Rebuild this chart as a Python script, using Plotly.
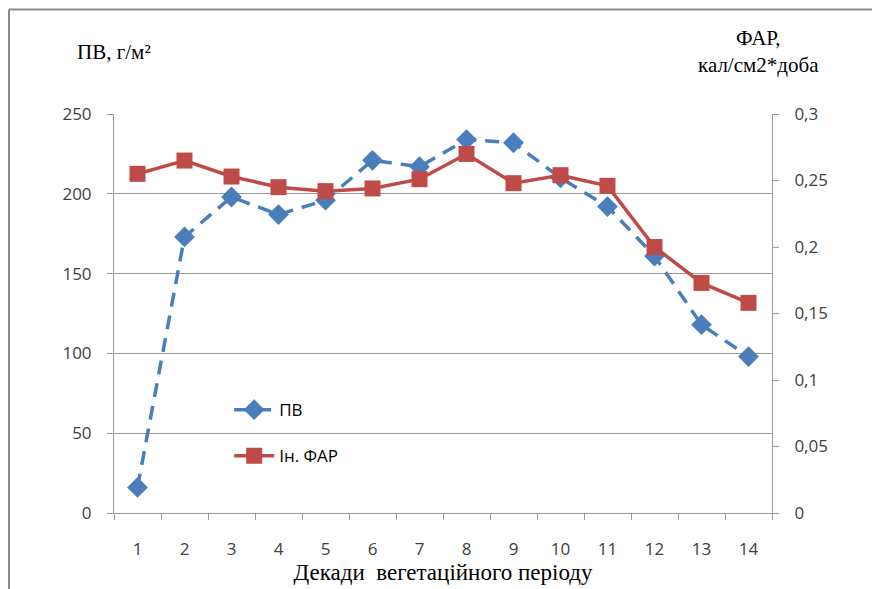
import plotly.graph_objects as go

decades = ["1", "2", "3", "4", "5", "6", "7", "8", "9", "10", "11", "12", "13", "14"]
pv_values = [16, 173, 198, 187, 196, 221, 217, 234, 232, 210, 192, 161, 118, 98]
far_values = [0.255, 0.265, 0.253, 0.245, 0.242, 0.244, 0.251, 0.270, 0.248, 0.254, 0.246, 0.200, 0.173, 0.158]
pv_name = "ПВ"
far_name = "Ін. ФАР"

BLUE = "#4A7EBB"
RED = "#BE4B48"
GRID = "#9a9a9a"
TXT = "#404040"
TICKFONT = dict(family="Open Sans", size=17, color=TXT)
SERIF = "Liberation Serif"

# page body has an 8px margin, so the figure starts at (8, 8) on screen
OFF = 8
PL, PR, PT, PB = 114, 772, 114, 515  # plot area in screen pixels
W, H = 880 - OFF, 589 - OFF


def px(sx):
    return (sx - PL) / (PR - PL)


def py(sy):
    return (PB - sy) / (PB - PT)


fig = go.Figure()
fig.add_trace(go.Scatter(
    x=decades, y=pv_values, name=pv_name, mode="lines+markers",
    line=dict(color=BLUE, width=3.5, dash="14px,9px"),
    marker=dict(symbol="diamond", size=16, color=BLUE),
    legendgroup="a", yaxis="y"))
fig.add_trace(go.Scatter(
    x=decades, y=far_values, name=far_name, mode="lines+markers",
    line=dict(color=RED, width=3.5),
    marker=dict(symbol="square", size=16, color=RED),
    legendgroup="b", yaxis="y2"))

fig.update_layout(
    width=W, height=H,
    margin=dict(l=PL - OFF, r=W - (PR - OFF), t=PT - OFF, b=H - (PB - OFF)),
    paper_bgcolor="white", plot_bgcolor="white",
    separators=", ",
    showlegend=True,
    legend=dict(x=0.175, y=0.303, xanchor="left", yanchor="top",
                bgcolor="rgba(0,0,0,0)", font=dict(family="Open Sans", size=17, color="black"),
                tracegroupgap=21, itemwidth=40),
    xaxis=dict(type="category", range=[-0.5, len(decades) - 0.5], tickson="boundaries",
               ticks="outside", ticklen=6,
               tickcolor=GRID, showline=True, linecolor=GRID, linewidth=1,
               showgrid=False, tickfont=TICKFONT, ticklabelstandoff=21,
               title=dict(text="Декади  вегетаційного періоду",
                          font=dict(family=SERIF, size=23, color="black"), standoff=0)),
    yaxis=dict(range=[0, 250], dtick=50, tick0=0, showgrid=True, gridcolor=GRID, gridwidth=1,
               ticks="outside", ticklen=6, tickcolor=GRID, showline=True, linecolor=GRID,
               zeroline=False, tickfont=TICKFONT, ticklabelstandoff=12),
    yaxis2=dict(range=[0, 0.3], dtick=0.05, tick0=0, overlaying="y", side="right",
                showgrid=False, ticks="outside", ticklen=6, tickcolor=GRID,
                showline=True, linecolor=GRID, zeroline=False, tickfont=TICKFONT,
                ticklabelstandoff=12),
)

fig.add_annotation(text="ПВ, г/м²", xref="paper", yref="paper",
                   x=px(114), y=py(52), xanchor="center", yanchor="middle",
                   showarrow=False, font=dict(family=SERIF, size=21, color="black"))
fig.add_annotation(text="ФАР,<br>кал/см2*доба", xref="paper", yref="paper",
                   x=px(758), y=py(51), xanchor="center", yanchor="middle",
                   showarrow=False, align="center",
                   font=dict(family=SERIF, size=21, color="black"))

# outer frame (left and top edges visible)
fig.add_shape(type="line", xref="paper", yref="paper",
              x0=px(9), x1=px(9), y0=py(9), y1=py(600),
              line=dict(color="#8a8a8a", width=2))
fig.add_shape(type="line", xref="paper", yref="paper",
              x0=px(9), x1=px(900), y0=py(9), y1=py(9),
              line=dict(color="#8a8a8a", width=2))

fig.write_html("out.html")
